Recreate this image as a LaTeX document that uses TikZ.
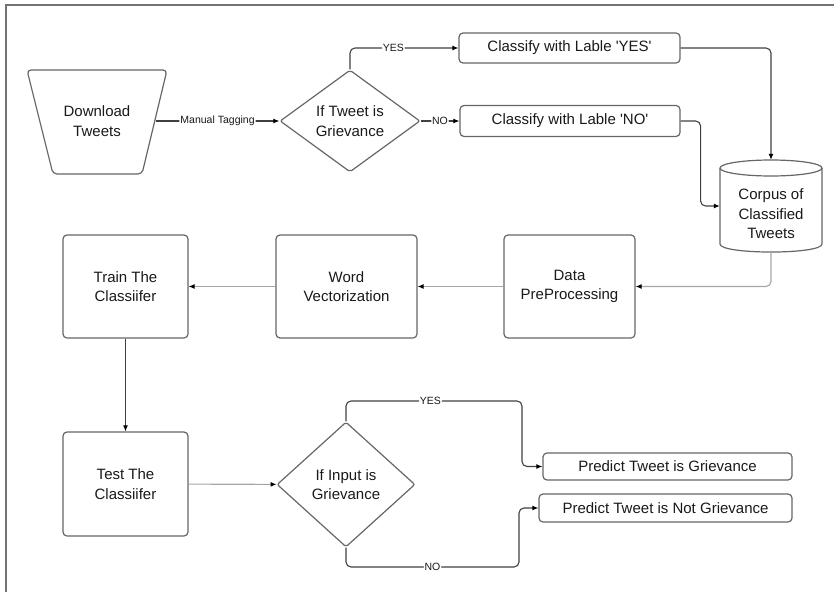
\documentclass[tikz,border=0pt]{standalone}
\usepackage{fontspec}
\setmainfont{Liberation Sans}
\usetikzlibrary{shapes.geometric,arrows.meta,calc}

\begin{document}
\begin{tikzpicture}[x=1pt,y=-1pt,
  txt/.style={font=\fontsize{15}{19.5}\selectfont, text=black!90, align=center},
  outline/.style={draw=black!60, line width=1.2pt},
  box/.style={txt, outline, rounded corners=4pt, inner sep=0pt},
  dec/.style={txt, outline, diamond, inner sep=0pt, rounded corners=2pt},
  conn/.style={draw=black!75, line width=1.1pt, rounded corners=5pt,
               -{Latex[length=6pt,width=5pt,color=black]}},
  light/.style={conn, draw=black!35},
  lbl/.style={font=\fontsize{10.5}{12}\selectfont, fill=white, inner sep=1pt, text=black!90}
]
\useasboundingbox (0,0) rectangle (834,591);

% outer frame
\draw[black!55, line width=1.3pt] (6,600) -- (6,5) -- (840,5);

% first row: tagging
\draw[outline, rounded corners=4pt] (27,70) -- (167,70) -- (142,174) -- (53,174) -- cycle;
\node[txt, minimum width=117, minimum height=104, inner sep=0pt]
      (dl) at (97,121) {Download\\Tweets};
\node[dec, aspect=1.37, minimum width=140, minimum height=102]
      (d1) at (350,121) {If Tweet is\\Grievance};
\node[box, minimum width=221, minimum height=30] (yes) at (569.5,48) {Classify with Lable \textquotesingle YES\textquotesingle};
\node[box, minimum width=220, minimum height=31] (no) at (570,121) {Classify with Lable \textquotesingle NO\textquotesingle};

% corpus cylinder
\node[minimum width=102, minimum height=92, inner sep=0pt] (corpus) at (771,206) {};
\draw[outline] (720,168) -- (720,244) .. controls (720,254.7) and (822,254.7) .. (822,244) -- (822,168);
\draw[outline] (771,168) ellipse [x radius=51, y radius=8];
\node[txt] (corpustxt) at (771,214) {Corpus of\\Classified\\Tweets};

% second row: pipeline
\node[box, minimum width=125, minimum height=103] (train) at (125.5,286.5) {Train The\\Classiifer};
\node[box, minimum width=141, minimum height=103] (word) at (346.5,286.5) {Word\\Vectorization};
\node[box, minimum width=131, minimum height=103] (data) at (569.5,286.5) {Data\\PreProcessing};

% third row: testing
\node[box, minimum width=125, minimum height=104] (test) at (125.5,484) {Test The\\Classiifer};
\node[dec, aspect=1.1, minimum width=138, minimum height=125]
      (d2) at (346,484.5) {If Input is\\Grievance};
\node[box, minimum width=249, minimum height=27] (p1) at (667.5,466.5) {Predict Tweet is Grievance};
\node[box, minimum width=253, minimum height=28] (p2) at (665.5,508) {Predict Tweet is Not Grievance};

% connectors
\draw[conn] (dl) -- node[lbl]{Manual Tagging} (d1);
\draw[conn] (d1.north) |- node[lbl, pos=0.7]{YES} (yes.west);
\draw[conn] (d1.east) -- node[lbl]{NO} (no.west);
\draw[conn] (yes.east) -| (corpus.north);
\draw[conn] (no.east) -- ++(20,0) |- (corpus.west);
\draw[light] (corpus.south) |- (data.east);
\draw[light] (data) -- (word);
\draw[light] (word) -- (train);
\draw[conn] (train) -- (test);
\draw[light] (test) -- (d2);
\coordinate (ya) at (522,401);
\coordinate (nb) at (519,567);
\draw[conn] (d2.north) |- node[lbl, pos=0.74]{YES} (ya) |- (p1.west);
\draw[conn] (d2.south) |- node[lbl, pos=0.75]{NO} (nb) |- (p2.west);
\end{tikzpicture}
\end{document}
